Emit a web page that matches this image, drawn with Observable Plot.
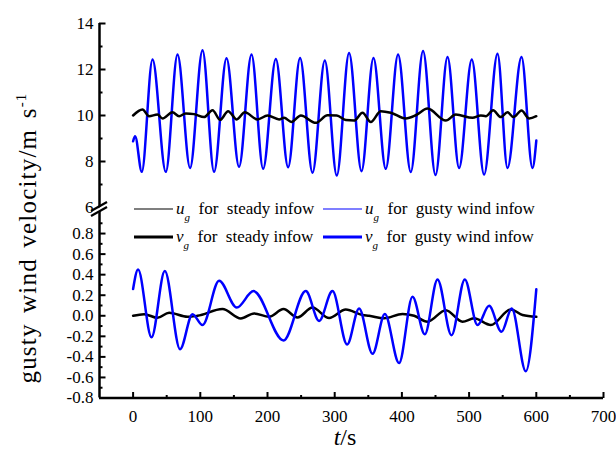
<!DOCTYPE html>
<html><head><meta charset="utf-8">
<script src="https://cdn.jsdelivr.net/npm/d3@7"></script>
<script src="https://cdn.jsdelivr.net/npm/@observablehq/plot@0.6"></script>
<style>
body{margin:0;background:#fff;}
#wrap{position:relative;width:616px;height:455px;font-family:"Liberation Serif","Times New Roman",serif;}
#wrap svg{position:absolute;left:0;top:0;}
#wrap svg text{font-family:"Liberation Serif","Times New Roman",serif;}
</style></head><body><div id="wrap"></div>
<script>
// u_g for steady inflow (black)
const tUSteady = [0,14,23.8,36.3,43.8,58.6,68.5,78.4,90.8,105.7,118.2,129.5,141.4,154.3,166.2,185.1,200,217.3,224.7,235.7,249.6,271.9,289.3,303.1,316.5,328.9,341.4,353.7,368.6,383.5,405.8,420.7,438.1,465.3,480.2,505.1,517.4,524.9,535.7,547.2,557.1,566.1,578,589.3,600];
const uSteady = [10.0,10.26,9.97,10.04,9.87,10.14,9.97,10.09,10.06,9.93,10.23,9.81,10.19,9.83,10.14,9.83,10.0,9.83,9.9,9.72,10.0,9.68,10.01,10.0,9.8,9.78,10.12,9.72,10.19,10.12,9.87,10.01,10.3,9.78,10.04,9.9,10.0,9.97,10.23,9.93,10.14,9.93,10.22,9.87,9.97];
// u_g for gusty wind inflow (blue)
const tUGusty = [0,3,12.9,28.9,48.7,66.1,84.8,103.3,120.5,139,157.7,176.2,193.5,212.4,230.7,248.5,267,285.3,303.1,321.4,339.9,357.7,376,394.3,413.2,431.5,450,467.9,485.1,504,522.3,542.3,557.1,578,594.3,600];
const uGusty = [8.88,9.1,7.55,12.43,7.55,12.65,7.72,12.84,7.55,12.49,7.77,12.65,7.68,12.46,7.75,12.5,7.51,12.39,7.39,12.72,7.58,12.5,7.68,12.65,7.54,12.8,7.41,12.54,7.72,12.43,7.43,12.68,7.72,12.54,7.72,8.91];
// v_g for steady inflow (black)
const tVSteady = [0,16.4,36.3,53.6,81,95.8,133,160.3,180.1,202.4,223.8,244.6,267,291.7,316.5,341.4,351.2,373.5,400.9,418.2,438.1,465.3,490.2,507.4,532.3,562,579.5,600];
const vSteady = [0.0,0.016,-0.02,0.03,-0.01,0.0,0.065,-0.026,0.023,-0.01,0.065,-0.016,0.08,-0.022,0.06,0.007,0.0,-0.025,0.017,0.0,-0.058,0.055,-0.058,-0.025,-0.09,0.062,0.007,-0.01];
// v_g for gusty wind inflow (blue)
const tVGusty = [0,7.4,27.4,47.2,69.9,88.4,103.3,128,154.3,179.2,223.8,257,276.8,296.7,318.5,336.3,356.3,374.6,395.8,415.8,434.1,453,473.8,493.6,512.5,529.8,548.2,563.5,584.4,600];
const vGusty = [0.26,0.45,-0.21,0.435,-0.325,0.016,-0.09,0.34,0.08,0.24,-0.24,0.24,-0.05,0.24,-0.28,0.07,-0.37,0.017,-0.46,0.185,-0.18,0.354,-0.19,0.354,-0.09,0.097,-0.156,0.072,-0.54,0.257];

// ticks
const xMajor = [0,100,200,300,400,500,600,700];
const xMinor = [50,150,250,350,450,550,650];
const yMajorTicks = [8,10,12,14,-0.8,-0.6,-0.4,-0.2,0,0.2,0.4,0.6,0.8];
const yMinorTicks = [7,9,11,13,-0.7,-0.5,-0.3,-0.1,0.1,0.3,0.5,0.7,0.9];
const yLabelTicks = [6,8,10,12,14,-0.8,-0.6,-0.4,-0.2,0,0.2,0.4,0.6,0.8];

// legend
const legendSym = ["u","u","v","v"];
const legendText = ["for  steady infow","for  gusty wind infow","for  steady infow","for  gusty wind infow"];
const legendColor = ["#000","#0000ff","#000","#0000ff"];
const legendWidth = [1.2,1.2,3,3];

const pts = (ts, vs) => ts.map((t,i)=>({t, v: vs[i]}));
const fmt = d => d >= 6 ? String(d) : d.toFixed(1);
const serif = "Liberation Serif";

const chart = Plot.plot({
  width: 616, height: 455,
  marginLeft: 99, marginRight: 13, marginTop: 23, marginBottom: 57,
  style: {fontFamily: serif, fontSize: "17px", color: "black", background: "transparent"},
  x: {domain: [-50, 700]},
  y: {type: "linear", domain: [-0.8, 1.0, 6, 14], range: [397.5, 212.5, 207, 23]},
  marks: [
    Plot.line(pts(tUGusty, uGusty), {x: "t", y: "v", stroke: "#0000ff", strokeWidth: 2.5, curve: "monotone-x"}),
    Plot.line(pts(tUSteady, uSteady), {x: "t", y: "v", stroke: "#000", strokeWidth: 2.5, curve: "monotone-x"}),
    Plot.line(pts(tVSteady, vSteady), {x: "t", y: "v", stroke: "#000", strokeWidth: 2.5, curve: "monotone-x"}),
    Plot.line(pts(tVGusty, vGusty), {x: "t", y: "v", stroke: "#0000ff", strokeWidth: 2.5, curve: "monotone-x"}),
    Plot.ruleX([-50], {y1: -0.8, y2: 14, strokeWidth: 2.5}),
    Plot.ruleY([-0.8], {x1: -50, x2: 700, strokeWidth: 2.5}),
    Plot.axisY(yMajorTicks, {tickSize: -6.5, fill: "none", strokeWidth: 2, label: null}),
    Plot.axisY(yMinorTicks, {tickSize: -3.5, fill: "none", strokeWidth: 2, label: null}),
    Plot.axisY(yLabelTicks, {tickSize: 0, tickPadding: 6, tickFormat: fmt, label: null, fontSize: 17, fontFamily: serif}),
    Plot.axisX(xMajor, {tickSize: -6, fill: "none", strokeWidth: 2, label: null}),
    Plot.axisX(xMinor, {tickSize: -3, fill: "none", strokeWidth: 2, label: null}),
    Plot.axisX(xMajor, {tickSize: 0, tickPadding: 11, label: null, fontSize: 17, fontFamily: serif})
  ]
});
document.getElementById("wrap").appendChild(chart);

// overlay: break marks, legend, axis titles
const ns = "http://www.w3.org/2000/svg";
const ov = document.createElementNS(ns, "svg");
ov.setAttribute("width", 616); ov.setAttribute("height", 455);
let html = "";
// axis break
html += `<polygon points="92,212 107,203 107,207 92,216" fill="#fff"/>`;
html += `<line x1="91" y1="211" x2="107" y2="202" stroke="#000" stroke-width="2.2"/>`;
html += `<line x1="91" y1="216" x2="107" y2="207" stroke="#000" stroke-width="2.2"/>`;
// legend
const colX = [134, 323];
const rowY = [209, 237];
legendSym.forEach((s, i) => {
  const cx = colX[i % 2], cy = rowY[Math.floor(i / 2)];
  html += `<line x1="${cx}" x2="${cx + 39}" y1="${cy}" y2="${cy}" stroke="${legendColor[i]}" stroke-width="${legendWidth[i]}"/>`;
  html += `<text x="${cx + 42}" y="${cy + 5}" font-size="17" style="white-space:pre"><tspan font-style="italic">${s}</tspan><tspan font-style="italic" font-size="11" dy="7">g</tspan><tspan dy="-7">  ${legendText[i]}</tspan></text>`;
});
// y title
html += `<text transform="translate(36,238) rotate(-90)" text-anchor="middle" font-size="25" letter-spacing="1.2" word-spacing="3" style="white-space:pre">gusty wind velocity/m s<tspan font-size="15" dy="-10">-1</tspan></text>`;
// x title
html += `<text x="345" y="445" text-anchor="middle" font-size="24"><tspan font-style="italic">t</tspan>/s</text>`;
ov.innerHTML = html;
document.getElementById("wrap").appendChild(ov);
</script>
</body></html>
